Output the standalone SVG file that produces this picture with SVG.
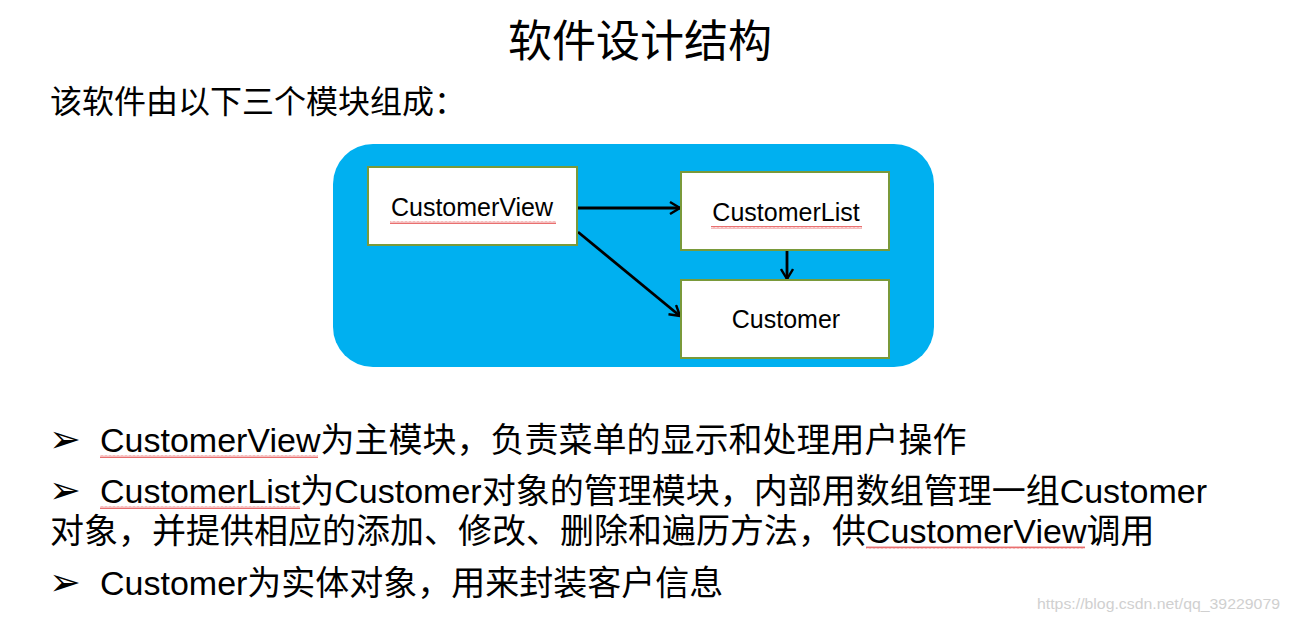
<svg xmlns="http://www.w3.org/2000/svg" width="1289" height="622" viewBox="0 0 1289 622">
<style>
.cjk{font-family:"Liberation Sans","Noto Sans CJK SC",sans-serif;fill:#000}
.box{fill:#fff;stroke:#7A9A3A;stroke-width:2}
.lbl{font-family:"Liberation Sans",Arial,sans-serif;font-size:25px;fill:#000;text-anchor:middle}
.conn{stroke:#000;stroke-width:2.8;fill:none;marker-end:url(#arr)}
.bul{font-family:"DejaVu Sans",sans-serif;font-size:38px;fill:#000}
.sq{fill:url(#wave)}
</style>
<defs>
<marker id="arr" markerWidth="14" markerHeight="14" refX="11" refY="7" orient="auto" markerUnits="userSpaceOnUse">
<path d="M1,1 L11,7 L1,13" fill="none" stroke="#000" stroke-width="2.4"/>
</marker>
<pattern id="wave" width="4" height="3" patternUnits="userSpaceOnUse">
<polyline points="0,2.5 1,0.5 2,2.5 3,0.5 4,2.5" fill="none" stroke="#E03030" stroke-width="0.7"/>
</pattern>
</defs>
<rect width="1289" height="622" fill="#fff"/>
<text class="cjk" x="640" y="57" font-size="44" text-anchor="middle">软件设计结构</text>
<text class="cjk" x="50" y="113" font-size="32">该软件由以下三个模块组成：</text>
<rect id="panel" x="333" y="144" width="601" height="223" rx="40" fill="#00B0F0"/>
<g id="connectors">
<line class="conn" x1="578" y1="208" x2="680" y2="208"/>
<line class="conn" x1="578" y1="232" x2="680" y2="316"/>
<line class="conn" x1="787" y1="250" x2="787" y2="279"/>
</g>
<g id="customerView">
<rect class="box" x="368" y="167" width="209" height="78"/>
<text class="lbl" x="472" y="216">CustomerView</text>
<rect class="sq" x="390" y="221" width="166" height="3"/>
</g>
<g id="customerList">
<rect class="box" x="681" y="172" width="208" height="78"/>
<text class="lbl" x="786" y="221">CustomerList</text>
<rect class="sq" x="711" y="226" width="151" height="3"/>
</g>
<g id="customer">
<rect class="box" x="681" y="280" width="208" height="78"/>
<text class="lbl" x="786" y="328">Customer</text>
</g>
<g id="bullets">
<text class="bul" x="49" y="452">➢</text>
<text class="cjk" x="100" y="452" font-size="34">CustomerView为主模块，负责菜单的显示和处理用户操作</text>
<rect class="sq" x="100" y="455" width="218" height="3"/>
<text class="bul" x="49" y="503">➢</text>
<text class="cjk" x="100" y="503" font-size="34">CustomerList为Customer对象的管理模块，内部用数组管理一组Customer</text>
<rect class="sq" x="100" y="506" width="200" height="3"/>
<text class="cjk" x="50" y="543" font-size="34">对象，并提供相应的添加、修改、删除和遍历方法，供CustomerView调用</text>
<rect class="sq" x="866" y="546" width="219" height="3"/>
<text class="bul" x="49" y="595">➢</text>
<text class="cjk" x="100" y="595" font-size="34">Customer为实体对象，用来封装客户信息</text>
</g>
<text x="1037" y="609" font-family="Liberation Sans,sans-serif" font-size="15" fill="#D0D0D0" textLength="243" lengthAdjust="spacingAndGlyphs">https://blog.csdn.net/qq_39229079</text>
</svg>
